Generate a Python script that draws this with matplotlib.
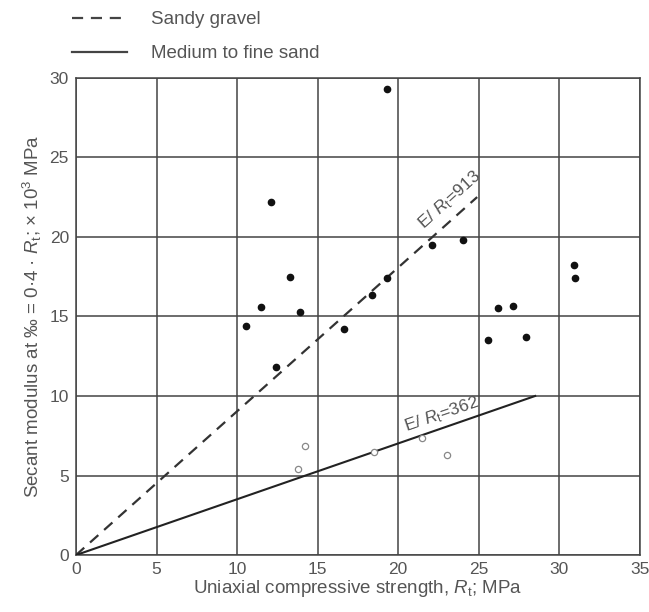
import matplotlib
matplotlib.use("Agg")
import matplotlib.pyplot as plt
from matplotlib.lines import Line2D

# filled points (sandy gravel)
gravel_x = [19.3, 12.1, 13.3, 11.5, 13.9, 10.55, 16.65, 12.4, 18.4, 19.3,
            22.1, 24.0, 30.9, 31.0, 26.2, 27.1, 25.6, 27.9]
gravel_y = [29.3, 22.2, 17.5, 15.6, 15.3, 14.4, 14.2, 11.8, 16.35, 17.4,
            19.5, 19.8, 18.2, 17.4, 15.55, 15.65, 13.5, 13.7]

# open points (medium to fine sand)
sand_x = [14.2, 13.8, 18.5, 21.45, 23.05]
sand_y = [6.86, 5.4, 6.5, 7.34, 6.27]

# fitted lines
gravel_line_x = [0, 24.9]
gravel_line_y = [0, 22.5]
sand_line_x = [0, 28.5]
sand_line_y = [0, 10.0]

xticks = [0, 5, 10, 15, 20, 25, 30, 35]
yticks = [0, 5, 10, 15, 20, 25, 30]

txt = '#555555'
grid = '#444444'

plt.rcParams['font.family'] = ['Liberation Sans', 'DejaVu Sans']
plt.rcParams['mathtext.fontset'] = 'custom'
plt.rcParams['mathtext.rm'] = 'Liberation Sans'
plt.rcParams['mathtext.it'] = 'Liberation Sans:italic'
plt.rcParams['mathtext.default'] = 'regular'
fig = plt.figure(figsize=(6.49, 6.12), dpi=100)
ax = fig.add_axes([0.117, 0.093, 0.869, 0.780])

ax.plot(gravel_line_x, gravel_line_y, color='#333333', lw=1.6,
        dashes=(5, 3.5), zorder=3)
ax.plot(sand_line_x, sand_line_y, color='#222222', lw=1.5, zorder=3)
ax.plot(gravel_x, gravel_y, 'o', color='#111111', ms=4.5, zorder=4)
ax.plot(sand_x, sand_y, 'o', mfc='white', mec='#888888', mew=0.9,
        ms=4.5, zorder=4)

ax.text(23.2, 22.3, 'E/ $\\mathit{R}_t$=913', rotation=42, color=txt,
        fontsize=12.5, ha='center', va='center', zorder=5)
ax.text(22.7, 8.85, 'E/ $\\mathit{R}_t$=362', rotation=19, color=txt,
        fontsize=12.5, ha='center', va='center', zorder=5)

ax.set_xlim(0, 35)
ax.set_ylim(0, 30)
ax.set_xticks(xticks)
ax.set_yticks(yticks)
ax.grid(True, color=grid, lw=1.1)
ax.set_axisbelow(True)
for s in ax.spines.values():
    s.set_color(grid)
    s.set_linewidth(1.1)
ax.tick_params(length=0, labelsize=12.5, labelcolor=txt, pad=5)

ax.set_xlabel('Uniaxial compressive strength, $\\mathit{R}_t$; MPa', color=txt,
              fontsize=13.5, labelpad=1)
ax.set_ylabel('Secant modulus at ‰ = 0·4 · $\\mathit{R}_t$; × 10$^3$ MPa',
              color=txt, fontsize=13.5, labelpad=4)

handles = [Line2D([], [], color='#444444', lw=1.6, dashes=(5, 3.5)),
           Line2D([], [], color='#444444', lw=1.6)]
fig.legend(handles, ['Sandy gravel', 'Medium to fine sand'],
           loc='upper left', bbox_to_anchor=(0.097, 0.997), frameon=False,
           borderpad=0, handlelength=2.9, handletextpad=1.3,
           labelspacing=0.9, fontsize=13.5, labelcolor=txt)

fig.savefig('out.png', dpi=100)
